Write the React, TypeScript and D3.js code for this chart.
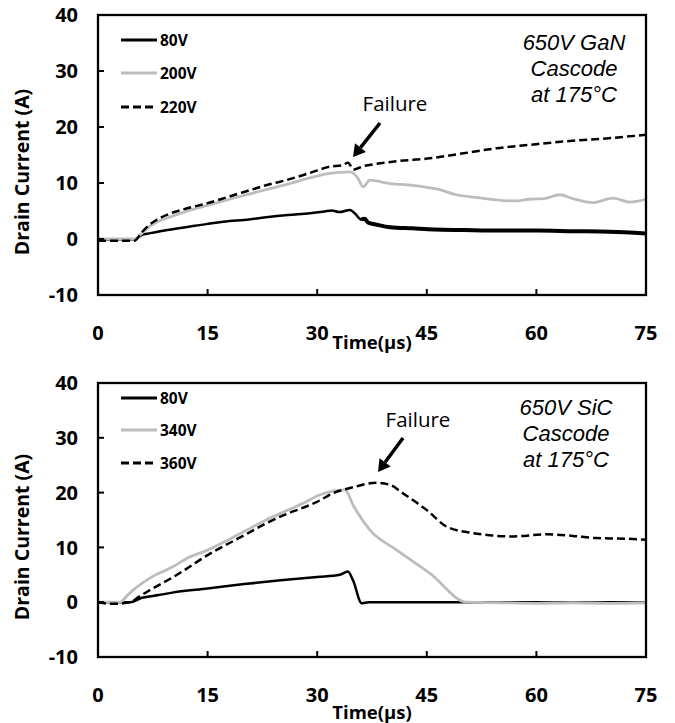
import React from "react";
import * as d3 from "d3";

// ---------- Data ----------
const xTicks = [0, 15, 30, 45, 60, 75];
const yTicks = [-10, 0, 10, 20, 30, 40];

// Top panel: 650V GaN Cascode
const gan80T = [0, 5, 5.5, 6, 7, 8.5, 10, 12, 15, 18, 20, 23, 26, 29, 31, 32, 33, 34.5, 35.2, 36, 36.5, 37, 38, 40, 43, 46, 50, 55, 60, 65, 70, 75];
const gan80V = [-0.1, -0.1, 0.3, 0.7, 1.0, 1.4, 1.7, 2.1, 2.7, 3.2, 3.4, 3.9, 4.3, 4.6, 4.9, 5.1, 4.8, 5.2, 4.5, 3.5, 3.6, 2.9, 2.6, 2.1, 1.9, 1.7, 1.6, 1.5, 1.5, 1.4, 1.3, 1.0];
const gan200T = [0, 5, 6, 7, 8, 10, 12, 15, 18, 20, 23, 26, 29, 31.7, 33, 34.5, 35.5, 36.3, 37.2, 40, 43, 46.8, 49, 52, 54.5, 57, 59, 61, 63.2, 65, 67.7, 70.5, 72.8, 75];
const gan200V = [0, 0, 1.0, 2.2, 3.0, 4.0, 4.9, 6.0, 7.1, 7.8, 8.8, 9.8, 10.9, 11.7, 11.9, 12.0, 11.0, 9.3, 10.5, 9.9, 9.6, 8.8, 7.9, 7.4, 7.0, 6.8, 7.1, 7.2, 7.9, 7.2, 6.5, 7.3, 6.6, 7.1];
const gan220T = [0, 5, 6, 7, 8, 10, 12, 15, 18, 20, 23, 26, 29, 31.7, 33.5, 34.2, 35, 36.3, 38, 41, 45.4, 50, 54.5, 59, 63.6, 69, 75];
const gan220V = [-0.3, -0.3, 1.2, 2.5, 3.4, 4.6, 5.4, 6.4, 7.6, 8.4, 9.6, 10.6, 11.8, 12.9, 13.2, 13.6, 12.4, 13.0, 13.4, 13.9, 14.4, 15.3, 16.2, 16.8, 17.4, 17.9, 18.6];

// Bottom panel: 650V SiC Cascode
const sic80T = [0, 4.4, 6, 8.3, 10, 15, 20, 25, 30, 33.1, 34.2, 34.9, 36.1, 37, 45, 55, 65, 75];
const sic80V = [0, 0, 0.8, 1.3, 1.7, 2.5, 3.3, 4.0, 4.6, 5.0, 5.6, 4.0, -0.2, 0, 0, 0, 0, 0];
const sic340T = [0, 3.0, 4.0, 4.8, 7.1, 10.3, 12, 15, 18, 20, 23, 26, 28, 30.4, 33.8, 35, 37.2, 40.9, 45.4, 50.5, 55, 60, 65, 70, 75];
const sic340V = [0, 0, 1.2, 2.2, 4.4, 6.5, 7.9, 9.5, 11.5, 12.9, 15.0, 16.8, 18.0, 19.6, 20.5, 17.5, 13.2, 9.5, 5.3, 0, -0.1, -0.2, -0.1, -0.2, -0.1];
const sic360T = [0, 2.0, 4.5, 5.5, 7.1, 10.3, 12, 15, 18, 20, 23, 26, 28, 30.4, 31.7, 35, 38.1, 40, 41.7, 45, 47.7, 50.9, 53, 56.8, 61.4, 65, 68.2, 72, 75];
const sic360V = [0, -0.3, 0, 0.9, 2.2, 4.6, 6.0, 8.6, 10.8, 12.2, 14.4, 16.2, 17.2, 18.6, 19.6, 21.0, 21.8, 21.4, 19.9, 16.8, 13.8, 12.7, 12.3, 12.0, 12.4, 12.1, 11.7, 11.6, 11.4];

const ganLabels = ["80V", "200V", "220V"];
const sicLabels = ["80V", "340V", "360V"];
const ganNote = ["650V GaN", "Cascode", "at 175°C"];
const sicNote = ["650V SiC", "Cascode", "at 175°C"];

const styles = [
  { stroke: "#000", dash: "none", width: 2.5 },
  { stroke: "#bdbdbd", dash: "none", width: 2.8 },
  { stroke: "#000", dash: "8,4", width: 2.5 },
];

const BOLD = "'Open Sans', sans-serif";

type PanelProps = {
  top: number;
  bottom: number;
  series: { t: number[]; v: number[] }[];
  noisyFrom?: number;
  labels: string[];
  legendYs: number[];
  note: string[];
  noteX: number;
  noteY: number;
  failX: number;
  failY: number;
  arrow: [number, number, number, number];
  xLabelY: number;
  titleY: number;
};

function Panel(p: PanelProps) {
  const x = d3.scaleLinear().domain([0, 75]).range([98, 646]);
  const y = d3.scaleLinear().domain([-10, 40]).range([p.bottom, p.top]);
  const line = d3
    .line<[number, number]>()
    .x((d) => x(d[0]))
    .y((d) => y(d[1]))
    .curve(d3.curveMonotoneX);
  const [ax1, ay1, ax2, ay2] = p.arrow;
  const ang = Math.atan2(ay2 - ay1, ax2 - ax1);
  const hl = 12, hw = 7;
  const bx = ax2 - hl * Math.cos(ang), by = ay2 - hl * Math.sin(ang);
  const head = [
    [ax2, ay2],
    [bx + hw * Math.sin(ang), by - hw * Math.cos(ang)],
    [bx - hw * Math.sin(ang), by + hw * Math.cos(ang)],
  ]
    .map((q) => q.join(","))
    .join(" ");
  const midY = (p.top + p.bottom) / 2;
  const s0 = p.series[0];
  const noisy =
    p.noisyFrom !== undefined
      ? s0.t.map((t, j) => [t, s0.v[j]] as [number, number]).filter((d) => d[0] >= (p.noisyFrom as number))
      : null;
  return (
    <g>
      {/* series */}
      {p.series.map((s, i) => (
        <path
          key={i}
          d={line(s.t.map((t, j) => [t, s.v[j]] as [number, number])) || ""}
          fill="none"
          stroke={styles[i].stroke}
          strokeWidth={styles[i].width}
          strokeDasharray={styles[i].dash}
          strokeLinejoin="round"
        />
      ))}
      {noisy && <path d={line(noisy) || ""} fill="none" stroke="#000" strokeWidth={4} strokeLinejoin="round" />}
      {/* frame */}
      <rect x={x(0)} y={p.top} width={x(75) - x(0)} height={p.bottom - p.top} fill="none" stroke="#000" strokeWidth={2.3} />
      {/* x ticks */}
      {xTicks.map((t) => (
        <g key={t}>
          {t > 0 && t < 75 && <line x1={x(t)} x2={x(t)} y1={p.bottom} y2={p.bottom - 6} stroke="#000" strokeWidth={2} />}
          <text x={x(t)} y={p.xLabelY} textAnchor="middle" fontFamily={BOLD} fontWeight="bold" fontSize={20}>
            {t}
          </text>
        </g>
      ))}
      {/* y ticks */}
      {yTicks.map((t) => (
        <g key={t}>
          {t > -10 && t < 40 && <line x1={x(0)} x2={x(0) + 6} y1={y(t)} y2={y(t)} stroke="#000" strokeWidth={2} />}
          <text x={78} y={y(t)} dy="0.36em" textAnchor="end" fontFamily={BOLD} fontWeight="bold" fontSize={20}>
            {t}
          </text>
        </g>
      ))}
      {/* axis titles */}
      <text transform={`translate(29,${midY + 17}) rotate(-90)`} textAnchor="middle" fontFamily={BOLD} fontWeight="bold" fontSize={19.5}>
        Drain Current (A)
      </text>
      <text x={372} y={p.titleY} textAnchor="middle" fontFamily={BOLD} fontWeight="bold" fontSize={18.5}>
        Time(μs)
      </text>
      {/* legend */}
      {p.labels.map((lab, i) => (
        <g key={lab}>
          <line x1={121} x2={157} y1={p.legendYs[i]} y2={p.legendYs[i]} stroke={styles[i].stroke} strokeWidth={styles[i].width + 0.3} strokeDasharray={styles[i].dash} />
          <text x={160} y={p.legendYs[i]} dy="0.36em" fontFamily={BOLD} fontWeight="bold" fontSize={15.5}>
            {lab}
          </text>
        </g>
      ))}
      {/* note */}
      {p.note.map((s, i) => (
        <text key={i} x={p.noteX} y={p.noteY + i * 26} textAnchor="middle" fontFamily="'Liberation Sans', Arial, sans-serif" fontStyle="italic" fontSize={22}>
          {s}
        </text>
      ))}
      {/* failure annotation */}
      <text x={p.failX} y={p.failY} textAnchor="middle" fontFamily="'Open Sans', sans-serif" fontSize={20.5}>
        Failure
      </text>
      <line x1={ax1} y1={ay1} x2={bx} y2={by} stroke="#000" strokeWidth={3.5} />
      <polygon points={head} fill="#000" />
    </g>
  );
}

export default function App() {
  return (
    <svg width={675} height={723} style={{ position: "absolute", left: 0, top: 0, background: "#fff" }}>
      <rect width={675} height={723} fill="#fff" />
      <Panel
        top={15}
        bottom={295}
        series={[
          { t: gan80T, v: gan80V },
          { t: gan200T, v: gan200V },
          { t: gan220T, v: gan220V },
        ]}
        noisyFrom={36}
        labels={ganLabels}
        legendYs={[40, 73, 107]}
        note={ganNote}
        noteX={574}
        noteY={50}
        failX={395}
        failY={111}
        arrow={[380, 123, 353, 157]}
        xLabelY={340}
        titleY={349}
      />
      <Panel
        top={383}
        bottom={657}
        series={[
          { t: sic80T, v: sic80V },
          { t: sic340T, v: sic340V },
          { t: sic360T, v: sic360V },
        ]}
        labels={sicLabels}
        legendYs={[398, 430, 463]}
        note={sicNote}
        noteX={566}
        noteY={415}
        failX={418}
        failY={427}
        arrow={[403, 438, 378, 472]}
        xLabelY={702}
        titleY={719}
      />
    </svg>
  );
}
